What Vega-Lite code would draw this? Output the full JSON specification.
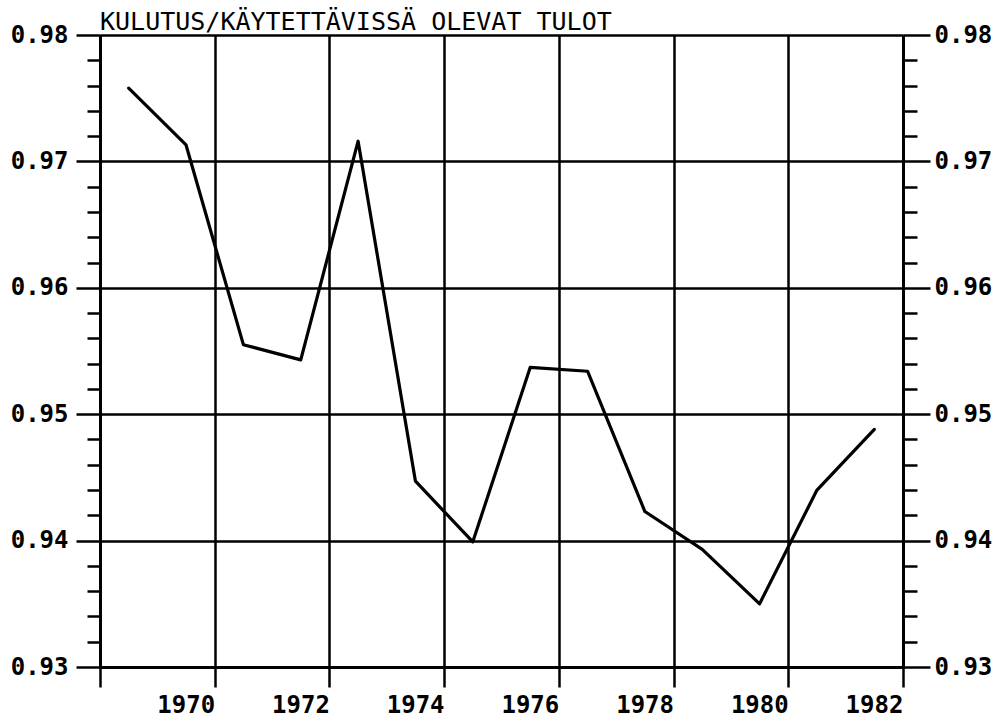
{
  "$schema": "https://vega.github.io/schema/vega-lite/v6.json",
  "width": 803,
  "height": 632,
  "autosize": {"type": "none"},
  "padding": {"left": 100, "top": 35, "right": 95, "bottom": 54},
  "background": "white",
  "config": {
    "view": {"stroke": null},
    "axis": {
      "domainColor": "black",
      "domainWidth": 3,
      "tickColor": "black",
      "tickWidth": 2.5,
      "gridColor": "black",
      "gridWidth": 2.5,
      "labelColor": "black",
      "labelFont": "DejaVu Sans Mono",
      "labelFontSize": 24,
      "labelFontWeight": "bold",
      "labelOverlap": false,
      "labelFlush": false,
      "title": null
    }
  },
  "title": {
    "text": "KULUTUS/KÄYTETTÄVISSÄ OLEVAT TULOT",
    "anchor": "start",
    "frame": "group",
    "font": "DejaVu Sans Mono",
    "fontSize": 25,
    "fontWeight": "normal",
    "color": "black",
    "offset": -12
  },
  "data": {
    "values": [
      {"year": 1968.5, "ratio": 0.9758},
      {"year": 1969.5, "ratio": 0.9713},
      {"year": 1970.5, "ratio": 0.9555},
      {"year": 1971.5, "ratio": 0.9543},
      {"year": 1972.5, "ratio": 0.9716},
      {"year": 1973.5, "ratio": 0.9447},
      {"year": 1974.5, "ratio": 0.9399},
      {"year": 1975.5, "ratio": 0.9537},
      {"year": 1976.5, "ratio": 0.9534},
      {"year": 1977.5, "ratio": 0.9423},
      {"year": 1978.5, "ratio": 0.9393},
      {"year": 1979.5, "ratio": 0.9350},
      {"year": 1980.5, "ratio": 0.9440},
      {"year": 1981.5, "ratio": 0.9488}
    ]
  },
  "encoding": {
    "x": {
      "field": "year",
      "type": "quantitative",
      "scale": {"domain": [1968, 1982], "nice": false, "zero": false},
      "axis": {
        "orient": "bottom",
        "values": [1968, 1970, 1972, 1974, 1976, 1978, 1980, 1982],
        "format": "d",
        "labelExpr": "datum.value == 1968 ? '' : datum.label",
        "grid": true,
        "tickSize": 20,
        "labelOffset": -29,
        "labelBaseline": "top",
        "labelPadding": 6
      }
    }
  },
  "layer": [
    {
      "mark": {"type": "line", "color": "black", "strokeWidth": 3.2, "strokeJoin": "round", "strokeCap": "round"},
      "encoding": {
        "y": {
          "field": "ratio",
          "type": "quantitative",
          "scale": {"domain": [0.93, 0.98], "nice": false, "zero": false},
          "axis": {
            "orient": "left",
            "values": [0.93, 0.932, 0.934, 0.936, 0.938, 0.94, 0.942, 0.944, 0.946, 0.948, 0.95, 0.952, 0.954, 0.956, 0.958, 0.96, 0.962, 0.964, 0.966, 0.968, 0.97, 0.972, 0.974, 0.976, 0.978, 0.98],
            "grid": true,
            "gridOpacity": {"condition": {"test": "abs(datum.value*100 - round(datum.value*100)) < 0.01", "value": 1}, "value": 0},
            "tickSize": {"condition": {"test": "abs(datum.value*100 - round(datum.value*100)) < 0.01", "value": 24}, "value": 13},
            "labelExpr": "abs(datum.value*100 - round(datum.value*100)) < 0.01 ? format(datum.value, '.2f') : ''",
            "labelPadding": 8
          }
        }
      }
    },
    {
      "mark": {"type": "line", "opacity": 0},
      "encoding": {
        "y": {
          "field": "ratio",
          "type": "quantitative",
          "scale": {"domain": [0.93, 0.98], "nice": false, "zero": false},
          "axis": {
            "orient": "right",
            "values": [0.93, 0.932, 0.934, 0.936, 0.938, 0.94, 0.942, 0.944, 0.946, 0.948, 0.95, 0.952, 0.954, 0.956, 0.958, 0.96, 0.962, 0.964, 0.966, 0.968, 0.97, 0.972, 0.974, 0.976, 0.978, 0.98],
            "grid": false,
            "tickSize": {"condition": {"test": "abs(datum.value*100 - round(datum.value*100)) < 0.01", "value": 27}, "value": 14},
            "labelExpr": "abs(datum.value*100 - round(datum.value*100)) < 0.01 ? format(datum.value, '.2f') : ''",
            "labelPadding": 4
          }
        }
      }
    }
  ],
  "resolve": {"axis": {"y": "independent"}}
}
